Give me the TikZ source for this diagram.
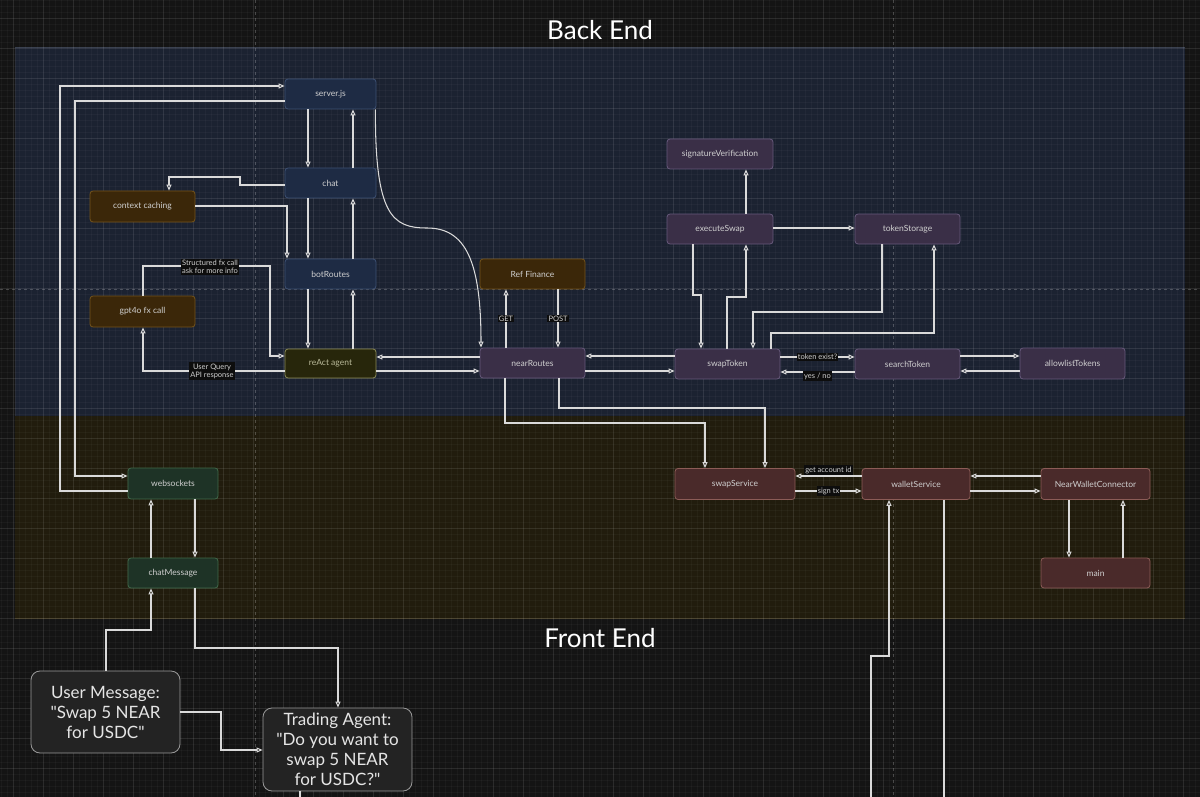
\documentclass[tikz,border=0pt]{standalone}
\usepackage{fontspec}
\setmainfont{Lato}[Ligatures=TeXOff]
\usetikzlibrary{arrows.meta,calc}
\definecolor{bgc}{HTML}{141414}
\definecolor{beregion}{HTML}{1B2231}
\definecolor{beborder}{HTML}{3A4150}
\definecolor{feregion}{HTML}{211C0D}
\definecolor{feborder}{HTML}{3A331C}
\definecolor{linec}{HTML}{DADADA}
\definecolor{txt}{HTML}{CFCFCF}
\definecolor{bluef}{HTML}{1E2B44}
\definecolor{blued}{HTML}{3D5073}
\definecolor{brownf}{HTML}{3B2709}
\definecolor{brownd}{HTML}{74531A}
\definecolor{olivef}{HTML}{27260B}
\definecolor{olived}{HTML}{8B8A55}
\definecolor{purplef}{HTML}{3A2F47}
\definecolor{purpled}{HTML}{67597B}
\definecolor{redf}{HTML}{4A2A2A}
\definecolor{redd}{HTML}{8C5C57}
\definecolor{greenf}{HTML}{1E3326}
\definecolor{greend}{HTML}{40694A}
\definecolor{grayf}{HTML}{232323}
\definecolor{grayd}{HTML}{9A9A9A}
\tikzset{
  nbox/.style={rounded corners=3pt, line width=0.8pt, inner sep=0pt, text=txt,
    font=\fontsize{8.5}{10}\selectfont, align=center},
  bluebox/.style={nbox, fill=bluef, draw=blued},
  brownbox/.style={nbox, fill=brownf, draw=brownd},
  olivebox/.style={nbox, fill=olivef, draw=olived, text=olived!60!white},
  purplebox/.style={nbox, fill=purplef, draw=purpled},
  redbox/.style={nbox, fill=redf, draw=redd},
  greenbox/.style={nbox, fill=greenf, draw=greend},
  graybox/.style={nbox, fill=grayf, draw=grayd, rounded corners=9pt, text=white!90!black,
    font=\fontsize{17}{20}\selectfont},
  arr/.style={draw=linec, line width=1.05pt, -{Triangle[open,length=6pt,width=5pt]}},
  plainline/.style={draw=linec, line width=1.05pt},
  lbl/.style={fill=black!95!white, text=txt, inner sep=1.2pt, font=\fontsize{7.5}{8}\selectfont, align=center},
  titletext/.style={text=white, font=\fontsize{26}{30}\selectfont}
}
\begin{document}
\begin{tikzpicture}[x=1pt,y=-1pt]
\useasboundingbox (0,0) rectangle (1200,797);
\fill[bgc] (0,0) rectangle (1200,797);
% regions
\fill[beregion] (15,48) rectangle (1185,416);
\fill[feregion] (15,416) rectangle (1185,618);
\draw[beborder, line width=1pt] (15,48) -- (1185,48);
\draw[feborder, line width=0.8pt] (15,618) -- (1185,618);
\draw[beborder!70!black, line width=0.5pt] (15,48) -- (15,416);
% grid
\foreach \i in {1,7,...,1200} {\draw[white, opacity=0.03, line width=0.4pt] (\i,0) -- (\i,797);}
\foreach \j in {0,6,...,797} {\draw[white, opacity=0.03, line width=0.4pt] (0,\j) -- (1200,\j);}
\foreach \i in {13,43,...,1200} {\draw[white, opacity=0.07, line width=0.5pt] (\i,0) -- (\i,797);}
\foreach \j in {18,48,...,797} {\draw[white, opacity=0.07, line width=0.5pt] (0,\j) -- (1200,\j);}
% guide lines
\draw[white, opacity=0.22, dashed, line width=0.5pt] (0,289) -- (1200,289);
\draw[white, opacity=0.22, dashed, line width=0.5pt] (255,0) -- (255,797);
\draw[white, opacity=0.22, dashed, line width=0.5pt] (893,0) -- (893,797);
% titles
\node[titletext] (betitle) at (600,30) {Back End};
\node[titletext] (fetitle) at (600,638) {Front End};
% nodes
\node[bluebox, minimum width=91, minimum height=30] (server) at (330.5,94) {server.js};
\node[bluebox, minimum width=91, minimum height=30] (chat) at (330.5,183) {chat};
\node[bluebox, minimum width=91, minimum height=30] (bot) at (330.5,274) {botRoutes};
\node[olivebox, minimum width=91, minimum height=29] (react) at (330.5,363.5) {reAct agent};
\node[brownbox, minimum width=105, minimum height=31] (ctx) at (142.5,206.5) {context caching};
\node[brownbox, minimum width=105, minimum height=31] (gpt) at (142.5,311.5) {gpt4o fx call};
\node[brownbox, minimum width=105, minimum height=30] (ref) at (532.5,274) {Ref Finance};
\node[purplebox, minimum width=105, minimum height=30] (near) at (532.5,363) {nearRoutes};
\node[purplebox, minimum width=106, minimum height=30] (sig) at (720,154) {signatureVerification};
\node[purplebox, minimum width=106, minimum height=30] (exec) at (720,229) {executeSwap};
\node[purplebox, minimum width=105, minimum height=30] (tstore) at (907.5,229) {tokenStorage};
\node[purplebox, minimum width=105, minimum height=30] (swapT) at (727.5,364) {swapToken};
\node[purplebox, minimum width=105, minimum height=30] (search) at (907.5,364) {searchToken};
\node[purplebox, minimum width=105, minimum height=31] (allow) at (1072.5,363.5) {allowlistTokens};
\node[redbox, minimum width=120, minimum height=31] (swapS) at (735,484) {swapService};
\node[redbox, minimum width=108, minimum height=31] (wallet) at (916,484) {walletService};
\node[redbox, minimum width=109, minimum height=31] (nwc) at (1095.5,484) {NearWalletConnector};
\node[redbox, minimum width=109, minimum height=30] (mainn) at (1095.5,573) {main};
\node[greenbox, minimum width=90, minimum height=31] (ws) at (173,483.5) {websockets};
\node[greenbox, minimum width=90, minimum height=30] (cm) at (173,573) {chatMessage};
\node[graybox, minimum width=149, minimum height=82] (user) at (105.5,712) {User Message:\\"Swap 5 NEAR\\for USDC"};
\node[graybox, minimum width=149, minimum height=83] (trade) at (337.5,749.5) {Trading Agent:\\"Do you want to\\swap 5 NEAR\\for USDC?"};
% coordinates off the bottom edge
\coordinate (offA) at (871,797);
\coordinate (offB) at (944,797);
\coordinate (offC) at (300,797);
% connectors
\draw[arr] (ws.west |- 0,491) -- (60,491) -- (60,86) -- (server.west |- 0,86);
\draw[arr] (server.west |- 0,101) -- (75,101) -- (75,476) -- (ws.west |- 0,476);
\draw[arr] (server.south -| 308,0) -- (chat.north -| 308,0);
\draw[arr] (chat.north -| 353,0) -- (server.south -| 353,0);
\draw[arr] (chat.south -| 308,0) -- (bot.north -| 308,0);
\draw[arr] (bot.north -| 353,0) -- (chat.south -| 353,0);
\draw[arr] (bot.south -| 308,0) -- (react.north -| 308,0);
\draw[arr] (react.north -| 353,0) -- (bot.south -| 353,0);
\draw[arr] (chat.west |- 0,185) -- (240,185) -- (240,177) -- (169,177) -- (ctx.north -| 169,0);
\draw[arr] (ctx.east |- 0,206) -- (287,206) -- (bot.north -| 287,0);
\draw[arr] (react.west |- 0,371) -- (143,371) -- (gpt.south -| 143,0);
\node[lbl] (lq) at (212,371) {User Query\\API response};
\draw[arr] (gpt.north -| 143,0) -- (143,266) -- (270,266) -- (270,356) -- (react.west |- 0,356);
\node[lbl] (ls) at (210,267) {Structured fx call\\ask for more info};
\draw[arr] ($(server.south east)+(-1,0)$) .. controls (375,215) and (392,228) .. (427,228) .. controls (466,228) and (481,262) .. (near.north -| 481,0);
\draw[arr] (near.west |- 0,357) -- (react.east |- 0,357);
\draw[arr] (react.east |- 0,371) -- (near.west |- 0,371);
\draw[arr] (near.north -| 506,0) -- node[lbl] {GET} (ref.south -| 506,0);
\draw[arr] (ref.south -| 558,0) -- node[lbl] {POST} (near.north -| 558,0);
\draw[arr] (swapT.west |- 0,356) -- (near.east |- 0,356);
\draw[arr] (near.east |- 0,371) -- (swapT.west |- 0,371);
\draw[arr] (near.south -| 505,0) -- (505,423) -- (705,423) -- (swapS.north -| 705,0);
\draw[arr] (near.south -| 559,0) -- (559,408) -- (765,408) -- (swapS.north -| 765,0);
\draw[arr] (exec.north -| 746,0) -- (sig.south -| 746,0);
\draw[arr] (exec.east |- 0,228) -- (tstore.west |- 0,228);
\draw[arr] (exec.south -| 693,0) -- (693,295) -- (701,295) -- (swapT.north -| 701,0);
\draw[arr] (swapT.north -| 727,0) -- (727,297) -- (746,297) -- (exec.south -| 746,0);
\draw[arr] (tstore.south -| 882,0) -- (882,312) -- (753,312) -- (swapT.north -| 753,0);
\draw[arr] (swapT.north -| 771,0) -- (771,333) -- (934,333) -- (tstore.south -| 934,0);
\draw[arr] (swapT.east |- 0,357) -- node[lbl] {token exist?} (search.west |- 0,357);
\draw[arr] (search.west |- 0,372) -- node[lbl, yshift=-4pt] {yes / no} (swapT.east |- 0,372);
\draw[arr] (search.east |- 0,356) -- (allow.west |- 0,356);
\draw[arr] (allow.west |- 0,371) -- (search.east |- 0,371);
\draw[arr] (wallet.west |- 0,476) -- node[lbl, yshift=6pt] {get account id} (swapS.east |- 0,476);
\draw[arr] (swapS.east |- 0,491) -- node[lbl] {sign tx} (wallet.west |- 0,491);
\draw[arr] (nwc.west |- 0,476) -- (wallet.east |- 0,476);
\draw[arr] (wallet.east |- 0,491) -- (nwc.west |- 0,491);
\draw[arr] (nwc.south -| 1069,0) -- (mainn.north -| 1069,0);
\draw[arr] (mainn.north -| 1123,0) -- (nwc.south -| 1123,0);
\draw[arr] (ws.south -| 195,0) -- (cm.north -| 195,0);
\draw[arr] (cm.north -| 151,0) -- (ws.south -| 151,0);
\draw[arr] (user.north -| 106,0) -- (106,630) -- (151,630) -- (cm.south -| 151,0);
\draw[arr] (cm.south -| 195,0) -- (195,648) -- (338,648) -- (trade.north -| 338,0);
\draw[arr] (user.east |- 0,712) -- (221,712) -- (221,750) -- (trade.west |- 0,750);
\draw[arr] (offA) -- (871,656) -- (889,656) -- (wallet.south -| 889,0);
\draw[plainline] (wallet.south -| 944,0) -- (offB);
\draw[plainline] (trade.south -| 300,0) -- (offC);
\end{tikzpicture}
\end{document}
